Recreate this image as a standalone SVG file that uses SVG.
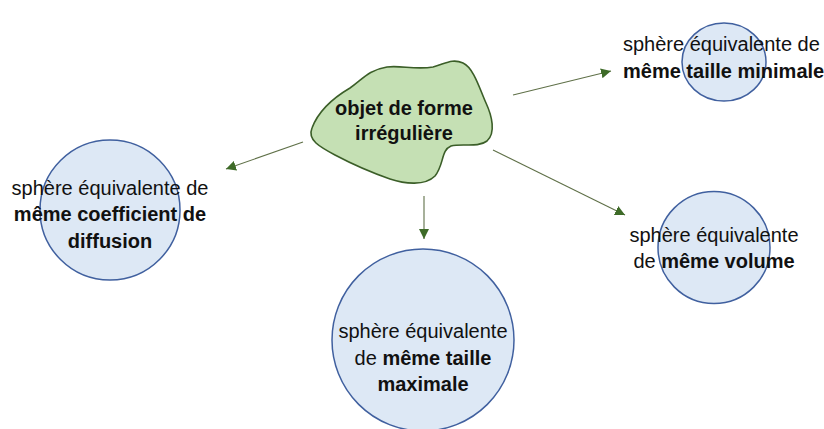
<svg xmlns="http://www.w3.org/2000/svg" width="824" height="429" viewBox="0 0 824 429">
<style>
.c{fill:#dde8f5;stroke:#40609f;stroke-width:1.5}
.t{font-family:"Liberation Sans",Arial,sans-serif;font-size:20px;fill:#111}
.b{font-weight:bold}
.a{stroke:#5f7048;stroke-width:1.1;fill:none;marker-end:url(#ah)}
</style>
<defs>
<marker id="ah" viewBox="0 0 10 10" refX="10" refY="5" markerWidth="10" markerHeight="10" markerUnits="userSpaceOnUse" orient="auto">
<path d="M0,0 L10,5 L0,10 z" fill="#3e6b28"/>
</marker>
</defs>
<rect width="824" height="429" fill="#fff"/>
<g id="connectors">
<line class="a" x1="513" y1="95" x2="611" y2="71"/>
<line class="a" x1="303" y1="142" x2="226" y2="169"/>
<line class="a" x1="493" y1="150" x2="625" y2="215"/>
<line class="a" x1="424" y1="196" x2="424" y2="239"/>
</g>
<g id="blob">
<path d="M312,128 C318,112 333,98 350,88 C362,80 368,70 387,67 C400,65 415,70 433,67 C445,64 452,58 463,63 C474,68 480,90 486,103 C492,116 496,133 487,141 C478,148 462,143 451,146 C441,150 444,165 435,176 C425,186 405,184 390,179 C370,172 352,164 335,155 C320,147 307,140 312,128 Z" fill="#c5e0b4" stroke="#3b5e28" stroke-width="1.6"/>
<text class="t b" text-anchor="middle"><tspan x="404" y="115">objet de forme</tspan><tspan x="404" y="140">irrégulière</tspan></text>
</g>
<g id="min">
<ellipse class="c" cx="724" cy="62" rx="42" ry="39"/>
<text class="t"><tspan x="623" y="51">sphère équivalente de</tspan><tspan class="b" x="623" y="78">même taille minimale</tspan></text>
</g>
<g id="diff">
<circle class="c" cx="110" cy="210" r="70"/>
<text class="t" text-anchor="middle"><tspan x="110" y="195">sphère équivalente de</tspan><tspan class="b" x="110" y="221">même coefficient de</tspan><tspan class="b" x="110" y="248">diffusion</tspan></text>
</g>
<g id="vol">
<circle class="c" cx="714" cy="247.5" r="56"/>
<text class="t" text-anchor="middle"><tspan x="714" y="242">sphère équivalente</tspan><tspan x="714" y="268">de <tspan class="b">même volume</tspan></tspan></text>
</g>
<g id="max">
<circle class="c" cx="423" cy="340" r="91"/>
<text class="t" text-anchor="middle"><tspan x="423" y="338">sphère équivalente</tspan><tspan x="423" y="365">de <tspan class="b">même taille</tspan></tspan><tspan class="b" x="423" y="391">maximale</tspan></text>
</g>
</svg>
